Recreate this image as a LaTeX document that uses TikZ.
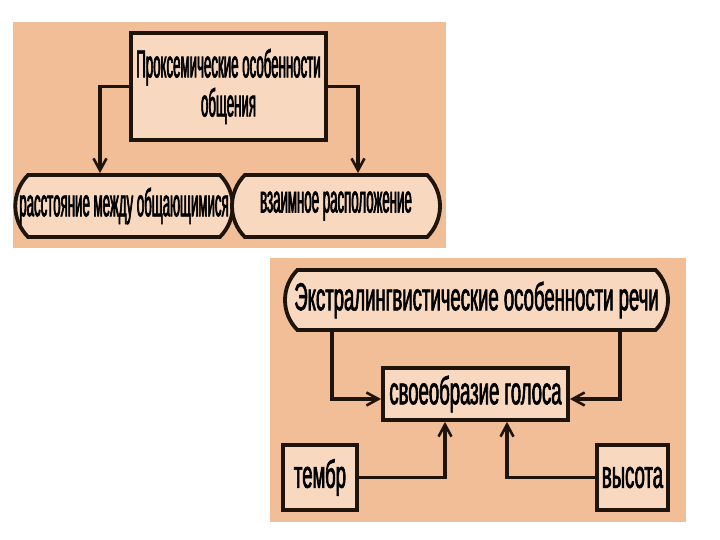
\documentclass[tikz,border=0pt]{standalone}
\usepackage{fontspec}
\usetikzlibrary{arrows.meta,positioning,shapes.misc}
\newfontfamily\diagfontA[FakeStretch=0.34,FakeBold=1.6]{Liberation Sans}
\newfontfamily\diagfontB[FakeStretch=0.475,FakeBold=1.6]{Liberation Sans}
\definecolor{panelPeach}{HTML}{F2BE97}
\definecolor{boxPeach}{HTML}{F8D8BF}
\definecolor{lineDark}{HTML}{1E140C}
\tikzset{
  diagArrow/.style={-{Straight Barb[length=12pt,width=13pt,line width=2.6pt]}, line width=3.4pt, draw=lineDark},
  diagBox/.style={
    draw=lineDark,
    fill=boxPeach,
    line width=3.8pt,
    align=center,
    inner sep=0pt,
    font=\diagfontB\fontsize{39}{39}\selectfont
  },
  diagPill/.style={
    diagBox,
    rounded rectangle,
    rounded rectangle arc length=90
  },
  firstText/.style={font=\diagfontA\fontsize{39}{39}\selectfont},
  diagPanel/.style={fill=panelPeach, draw=none}
}
\begin{document}
\begin{tikzpicture}[x=1pt, y=-1pt]
  \useasboundingbox[fill=white] (0,0) rectangle (720,540);
  % two panels
  \fill[diagPanel] (13,22) rectangle (446,248);
  \fill[diagPanel] (270,258) rectangle (686,522);

  % first scheme
  \node[diagBox, firstText, minimum width=195pt, minimum height=107pt] (prox) at (228.5,86.5) {Проксемические особенности\\общения};
  \node[diagPill, firstText, minimum width=212pt, minimum height=62pt] (dist) at (124,206) {расстояние между общающимися};
  \node[diagPill, firstText, minimum width=208pt, minimum height=62pt] (mutual) at (336,206) {взаимное расположение};

  \draw[diagArrow] (prox.west) -| ([xshift=-24pt]dist.north);
  \draw[diagArrow] (prox.east) -| ([xshift=22pt]mutual.north);

  % second scheme
  \node[diagPill, minimum width=383pt, minimum height=60pt] (extra) at (476.5,300) {Экстралингвистические особенности речи};
  \node[diagBox, minimum width=185pt, minimum height=52pt] (voice) at (475.5,394) {своеобразие голоса};
  \node[diagBox, minimum width=74pt, minimum height=65pt] (timbre) at (320,477.5) {тембр};
  \node[diagBox, minimum width=71pt, minimum height=65pt] (pitch) at (632.5,477.5) {высота};

  \draw[diagArrow] ([xshift=-144.5pt]extra.south) |- ([yshift=-5pt]voice.west);
  \draw[diagArrow] ([xshift=143.5pt]extra.south) |- ([yshift=-5pt]voice.east);
  \draw[diagArrow] (timbre.east) -| ([xshift=-30.5pt]voice.south);
  \draw[diagArrow] (pitch.west) -| ([xshift=31.5pt]voice.south);
\end{tikzpicture}
\end{document}
